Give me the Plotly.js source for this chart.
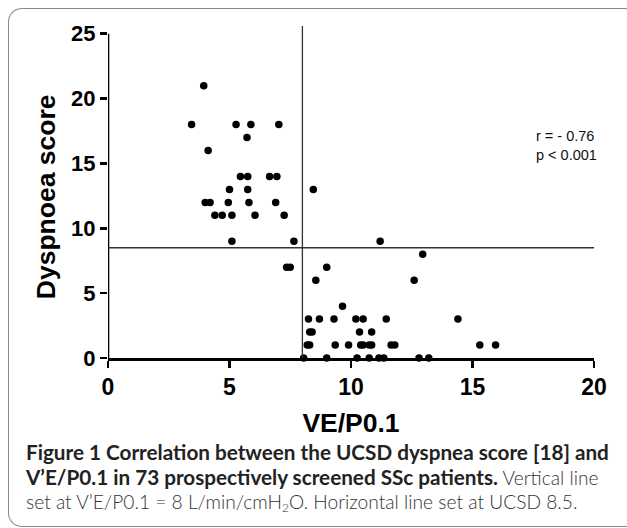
<!DOCTYPE html>
<html>
<head>
<meta charset="utf-8">
<script src="https://cdn.plot.ly/plotly-3.0.1.min.js"></script>
<style>
  html, body { margin: 0; padding: 0; width: 627px; height: 528px; overflow: hidden; background: #fff; }
  #frame { position: absolute; left: 8px; top: 8px; width: 640px; height: 519px;
    border-left: 1.6px solid #8a8a8a; border-top: 1.6px solid #8a8a8a; border-bottom: 1.6px solid #8a8a8a;
    border-top-left-radius: 14px; border-bottom-left-radius: 14px; box-sizing: border-box; }
  #chart { position: absolute; left: 0; top: 0; width: 627px; height: 528px; }
  #caption { position: absolute; left: 26px; top: 440px; width: 600px; font-family: Lato, "Open Sans", sans-serif;
    font-size: 20.7px; color: #222; white-space: nowrap; }
  #caption div { height: 24.5px; line-height: 24.5px; }
  #caption b { font-weight: 700; }
  #caption .reg { color: #333; font-weight: 300; font-size: 19.2px; }
  #caption sub { font-size: 12px; vertical-align: -3px; line-height: 0; }
</style>
</head>
<body>
<div id="frame"></div>
<div id="chart"></div>
<div id="caption">
  <div><b>Figure 1 Correlation between the UCSD dyspnea score [18] and</b></div>
  <div><b>V’E/P0.1 in 73 prospectively screened SSc patients.</b><span class="reg"> Vertical line</span></div>
  <div><span class="reg">set at V’E/P0.1 = 8 L/min/cmH<sub>2</sub>O. Horizontal line set at UCSD 8.5.</span></div>
</div>
<script>
// VE/P0.1 values and matching dyspnoea scores
const veP01 = [
  3.94,
  3.44, 5.27, 5.88, 7.03,
  5.72,
  4.12,
  5.45, 5.75, 6.65, 6.95,
  5.0, 5.75, 8.45,
  4.0, 4.2, 4.95, 5.8, 6.9,
  4.4, 4.7, 5.1, 6.05, 7.25,
  5.1, 7.65, 11.2,
  12.95,
  7.35, 7.5, 9.0,
  8.55, 12.6,
  9.65,
  8.25, 8.7, 9.3, 10.2, 10.5, 11.45, 14.4,
  8.3, 8.4, 10.35, 10.85,
  8.2, 8.3, 9.35, 9.9, 10.4, 10.5, 10.75, 10.85, 11.65, 11.8, 15.3, 15.95,
  8.05, 9.0, 10.25, 10.75, 11.15, 11.35, 12.8, 13.2
];
const dyspnoea = [
  21,
  18, 18, 18, 18,
  17,
  16,
  14, 14, 14, 14,
  13, 13, 13,
  12, 12, 12, 12, 12,
  11, 11, 11, 11, 11,
  9, 9, 9,
  8,
  7, 7, 7,
  6, 6,
  4,
  3, 3, 3, 3, 3, 3, 3,
  2, 2, 2, 2,
  1, 1, 1, 1, 1, 1, 1, 1, 1, 1, 1, 1,
  0, 0, 0, 0, 0, 0, 0, 0
];
const xTicks = [0, 5, 10, 15, 20];
const yTicks = [0, 5, 10, 15, 20, 25];
const cutVE = 8;
const cutUCSD = 8.5;
const statLines = ["r = - 0.76", "p &lt; 0.001"];
const xTitle = "VE/P0.1";
const yTitle = "Dyspnoea score";

const trace = {
  x: veP01, y: dyspnoea, type: 'scatter', mode: 'markers',
  marker: { color: '#000', size: 7.5 },
  cliponaxis: false, hoverinfo: 'x+y'
};

const fam = 'Liberation Sans, Arial, sans-serif';

const layout = {
  width: 627, height: 528,
  margin: { l: 108, r: 33, t: 26, b: 170 },
  paper_bgcolor: 'rgba(0,0,0,0)', plot_bgcolor: 'rgba(0,0,0,0)',
  showlegend: false,
  xaxis: {
    range: [0, 20], tickvals: xTicks, ticktext: xTicks.map(String),
    showgrid: false, zeroline: false, showline: true, linecolor: '#000', linewidth: 2.6,
    ticks: 'outside', ticklen: 7, tickwidth: 2.6, tickcolor: '#000',
    tickfont: { family: fam, size: 23, color: '#000', weight: 'bold' },
    title: { text: '<b>' + xTitle + '</b>', font: { family: fam, size: 26.5, color: '#000' }, standoff: 15 }
  },
  yaxis: {
    range: [0, 25.6], tickvals: yTicks, ticktext: yTicks.map(String),
    showgrid: false, zeroline: false, showline: false,
    ticks: 'outside', ticklen: 7, tickwidth: 2.6, tickcolor: '#000',
    tickfont: { family: fam, size: 22, color: '#000', weight: 'bold' },
    title: { text: '' }
  },
  shapes: [
    { type: 'line', xref: 'x', yref: 'y', x0: 0, x1: 0, y0: 0, y1: 25, line: { color: '#000', width: 2.6 } },
    { type: 'line', xref: 'x', yref: 'y', x0: cutVE, x1: cutVE, y0: 0, y1: 25.6, line: { color: '#333', width: 1.3 } },
    { type: 'line', xref: 'x', yref: 'y', x0: 0, x1: 20, y0: cutUCSD, y1: cutUCSD, line: { color: '#333', width: 1.3 } }
  ],
  annotations: [
    { x: 17.55, y: 16.4, xref: 'x', yref: 'y', xanchor: 'left', yanchor: 'middle', align: 'left', showarrow: false,
      text: statLines.join('<br>'), font: { family: fam, size: 14.5, color: '#111' } },
    { x: 0, y: 12.4, xref: 'x', yref: 'y', xanchor: 'center', yanchor: 'middle', xshift: -62, textangle: -90,
      showarrow: false, text: '<b>' + yTitle + '</b>', font: { family: fam, size: 26.5, color: '#000' } }
  ]
};

Plotly.newPlot('chart', [trace], layout, { displayModeBar: false, staticPlot: true });
</script>
</body>
</html>
